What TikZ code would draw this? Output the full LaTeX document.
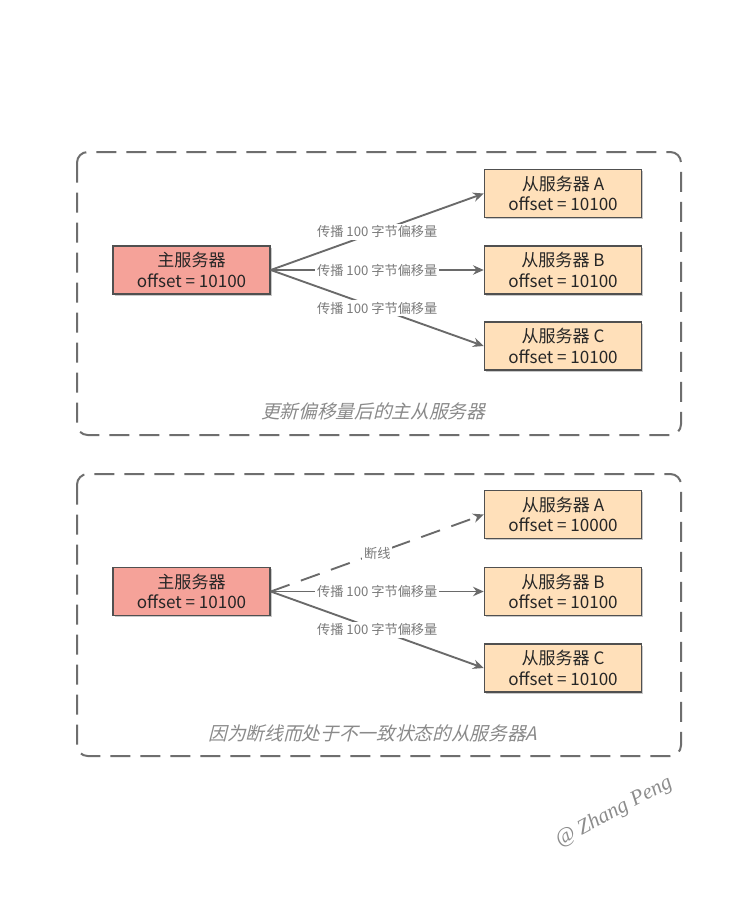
\documentclass[tikz,border=0pt]{standalone}
\usepackage{fontspec}
\setmainfont{Noto Sans CJK SC}
\newfontfamily\capfont[FakeSlant=0.25]{Noto Sans CJK SC}
\newfontfamily\wmfont{Liberation Serif}
\usetikzlibrary{arrows.meta,shadows}
\definecolor{framegray}{HTML}{6E6E6E}
\definecolor{edgegray}{HTML}{6A6A6A}
\definecolor{boxborder}{HTML}{505050}
\definecolor{masterfill}{HTML}{F5A299}
\definecolor{slavefill}{HTML}{FFE0BA}
\definecolor{labelgray}{HTML}{7A7A7A}
\definecolor{captiongray}{HTML}{8A8A8A}
\tikzset{
  frame/.style={draw=framegray, line width=1.5pt, rounded corners=8pt, dash pattern=on 15pt off 7.5pt},
  srvbox/.style={draw=boxborder, line width=1.1pt, minimum width=117.75pt, minimum height=36pt, inner sep=0pt, align=center, font=\fontsize{12.8pt}{15.5pt}\selectfont, text=black!85, drop shadow={shadow xshift=1.4pt, shadow yshift=-1.4pt, opacity=0.35, fill=black!60}},
  master/.style={srvbox, fill=masterfill},
  slave/.style={srvbox, fill=slavefill},
  link/.style={draw=edgegray, line width=1.4pt, -{Stealth[length=8pt,width=7pt]}},
  brokenlink/.style={link, dash pattern=on 15pt off 9pt},
  elabel/.style={fill=white, inner sep=1.5pt, font=\fontsize{9.9pt}{11pt}\selectfont, text=labelgray},
  caption/.style={font=\capfont\fontsize{14pt}{16pt}\selectfont, text=captiongray}
}
\begin{document}
\begin{tikzpicture}[x=0.75pt,y=-0.75pt]
\useasboundingbox (0,0) rectangle (756,907);
\fill[white] (0,0) rectangle (756,907);
% frame 1
\draw[frame] (77,152) rectangle (681,435);
\node[master] (m1) at (191.5,270) {主服务器\\offset = 10100};
\node[slave] (a1) at (563,193.5) {从服务器 A\\offset = 10100};
\node[slave] (b1) at (563,270) {从服务器 B\\offset = 10100};
\node[slave] (c1) at (563,346) {从服务器 C\\offset = 10100};
\draw[link] (m1.east) -- node[elabel] {传播 100 字节偏移量} (a1.west);
\draw[link] (m1.east) -- node[elabel] {传播 100 字节偏移量} (b1.west);
\draw[link] (m1.east) -- node[elabel] {传播 100 字节偏移量} (c1.west);
\node[caption] (cap1) at (373,411) {更新偏移量后的主从服务器};
% frame 2
\draw[frame] (77,474) rectangle (681,756);
\node[master] (m2) at (191.5,591.5) {主服务器\\offset = 10100};
\node[slave] (a2) at (563,514.5) {从服务器 A\\offset = 10000};
\node[slave] (b2) at (563,591.5) {从服务器 B\\offset = 10100};
\node[slave] (c2) at (563,668) {从服务器 C\\offset = 10100};
\draw[brokenlink] (m2.east) -- node[elabel] {断线} (a2.west);
\draw[link] (m2.east) -- node[elabel] {传播 100 字节偏移量} (b2.west);
\draw[link] (m2.east) -- node[elabel] {传播 100 字节偏移量} (c2.west);
\node[caption] (cap2) at (373,733) {因为断线而处于不一致状态的从服务器A};
% watermark
\node[rotate=28, text=black!45, font=\wmfont\itshape\fontsize{16pt}{17pt}\selectfont] (wm) at (614,812) {@ Zhang Peng};
\end{tikzpicture}
\end{document}
